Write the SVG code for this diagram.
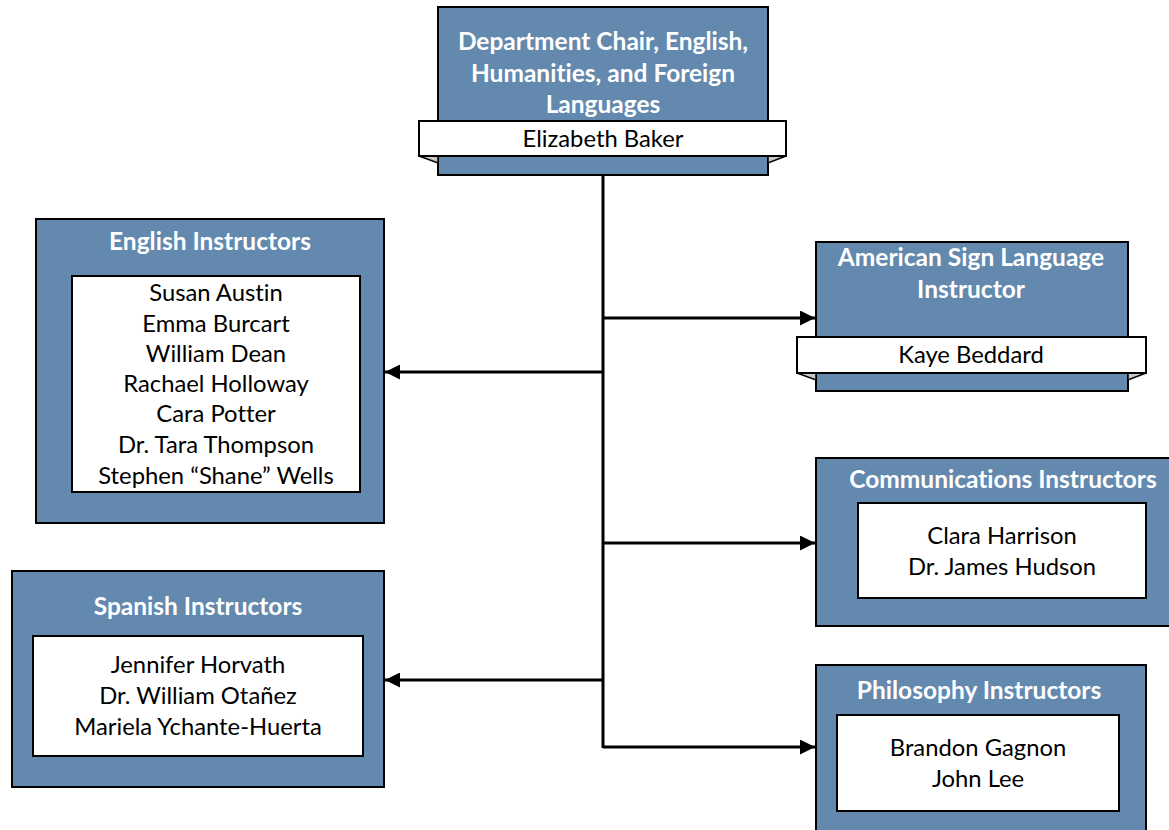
<svg xmlns="http://www.w3.org/2000/svg" width="1169" height="830" viewBox="0 0 1169 830">
<defs>
<style>
.box{fill:#6389ae;stroke:#000;stroke-width:2}
.inner{fill:#fff;stroke:#000;stroke-width:2}
.fold{fill:#c8c8c8;stroke:#000;stroke-width:1.5}
.t{font-family:Lato,"Liberation Sans",sans-serif;font-size:24.5px;font-weight:bold;fill:#fff;text-anchor:middle;font-variant-ligatures:none}
.n{font-family:Lato,"Liberation Sans",sans-serif;font-size:23.8px;fill:#000;text-anchor:middle;font-variant-ligatures:none}
.c{fill:none;stroke:#000;stroke-width:3}
</style>
<marker id="arr" viewBox="0 0 10 10" refX="10" refY="5" markerWidth="5" markerHeight="5" markerUnits="strokeWidth" orient="auto">
<path d="M0,0 L10,5 L0,10 Z" fill="#000"/>
</marker>
</defs>
<rect width="1169" height="830" fill="#fff"/>
<g id="connectors">
<line class="c" x1="603" y1="175" x2="603" y2="748"/>
<line class="c" x1="603" y1="318" x2="815" y2="318" marker-end="url(#arr)"/>
<line class="c" x1="603" y1="372" x2="385" y2="372" marker-end="url(#arr)"/>
<line class="c" x1="603" y1="543" x2="815" y2="543" marker-end="url(#arr)"/>
<line class="c" x1="603" y1="680" x2="385" y2="680" marker-end="url(#arr)"/>
<line class="c" x1="603" y1="747" x2="815" y2="747" marker-end="url(#arr)"/>
</g>
<g id="chair">
<rect class="box" x="438" y="7" width="330" height="168"/>
<polygon class="fold" points="419,156 438,156 438,163"/>
<polygon class="fold" points="786,156 768,156 768,163"/>
<rect class="inner" x="419" y="121" width="367" height="35"/>
<text class="t" x="603" y="50">Department Chair, English,</text>
<text class="t" x="603" y="82">Humanities, and Foreign</text>
<text class="t" x="603" y="113">Languages</text>
<text class="n" x="603" y="147">Elizabeth Baker</text>
</g>
<g id="asl">
<rect class="box" x="816" y="242" width="312" height="149"/>
<polygon class="fold" points="797,373 816,373 816,380"/>
<polygon class="fold" points="1146,373 1128,373 1128,380"/>
<rect class="inner" x="797" y="337" width="349" height="36"/>
<text class="t" x="971" y="266">American Sign Language</text>
<text class="t" x="971" y="298">Instructor</text>
<text class="n" x="971" y="363">Kaye Beddard</text>
</g>
<g id="english">
<rect class="box" x="36" y="219" width="348" height="304"/>
<rect class="inner" x="72" y="276" width="288" height="216"/>
<text class="t" x="210" y="250">English Instructors</text>
<text class="n" x="216" y="301">Susan Austin</text>
<text class="n" x="216" y="332">Emma Burcart</text>
<text class="n" x="216" y="362">William Dean</text>
<text class="n" x="216" y="392">Rachael Holloway</text>
<text class="n" x="216" y="422">Cara Potter</text>
<text class="n" x="216" y="453">Dr. Tara Thompson</text>
<text class="n" x="216" y="484">Stephen “Shane” Wells</text>
</g>
<g id="communications">
<rect class="box" x="816" y="458" width="360" height="168"/>
<rect class="inner" x="858" y="503" width="288" height="95"/>
<text class="t" x="1003" y="488">Communications Instructors</text>
<text class="n" x="1002" y="544">Clara Harrison</text>
<text class="n" x="1002" y="575">Dr. James Hudson</text>
</g>
<g id="spanish">
<rect class="box" x="12" y="571" width="372" height="216"/>
<rect class="inner" x="33" y="636" width="330" height="120"/>
<text class="t" x="198" y="615">Spanish Instructors</text>
<text class="n" x="198" y="673">Jennifer Horvath</text>
<text class="n" x="198" y="704">Dr. William Otañez</text>
<text class="n" x="198" y="735">Mariela Ychante-Huerta</text>
</g>
<g id="philosophy">
<rect class="box" x="816" y="665" width="330" height="180"/>
<rect class="inner" x="837" y="715" width="282" height="96"/>
<text class="t" x="979" y="699">Philosophy Instructors</text>
<text class="n" x="978" y="756">Brandon Gagnon</text>
<text class="n" x="978" y="787">John Lee</text>
</g>
</svg>
